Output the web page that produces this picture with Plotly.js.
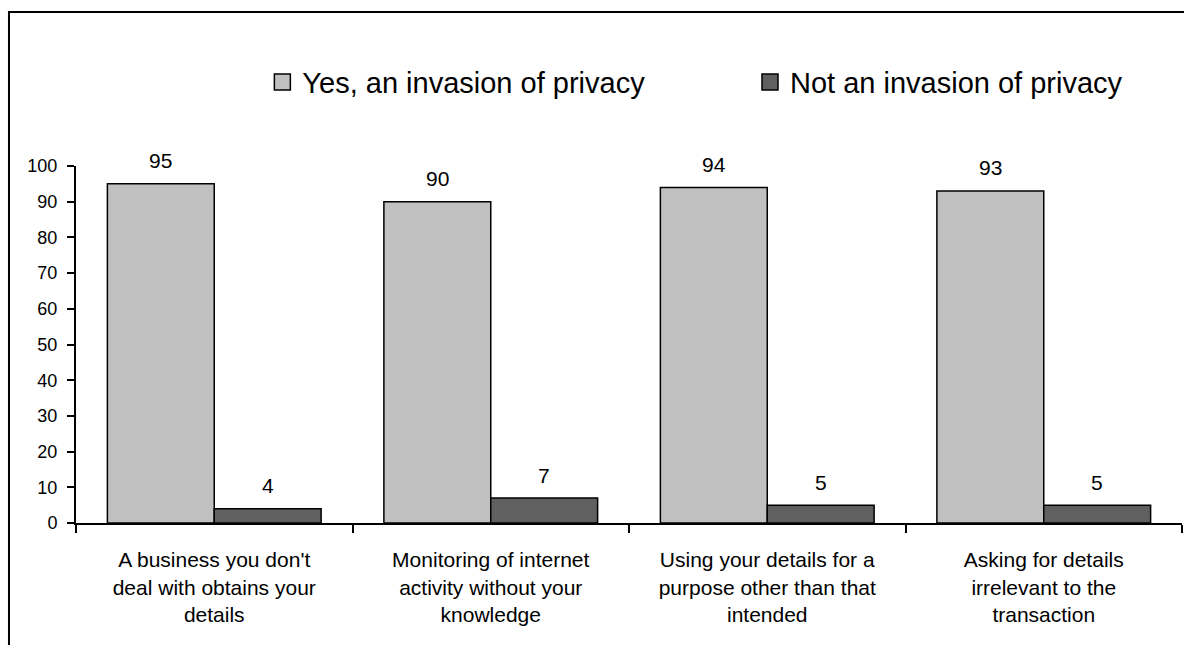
<!DOCTYPE html>
<html>
<head>
<meta charset="utf-8">
<script src="https://cdn.plot.ly/plotly-3.0.1.min.js"></script>
<style>html,body{margin:0;padding:0;background:#fff;}#chart{width:1184px;height:645px;}</style>
</head>
<body>
<div id="chart"></div>
<script>
const categories = [
  "A business you don't<br>deal with obtains your<br>details",
  "Monitoring of internet<br>activity without your<br>knowledge",
  "Using your details for a<br>purpose other than that<br>intended",
  "Asking for details<br>irrelevant to the<br>transaction"
];
const seriesNames = ["Yes, an invasion of privacy", "Not an invasion of privacy"];
const yesValues = [95, 90, 94, 93];
const notValues = [4, 7, 5, 5];
const yTickVals = [0, 10, 20, 30, 40, 50, 60, 70, 80, 90, 100];

const FONT = "Arial, 'Liberation Sans', sans-serif";
const colors = ["#C0C0C0", "#606060"];

const MARGIN = {l: 76, r: 2, t: 166, b: 122};
const WIDTH = 1184, HEIGHT = 645;
const BARGAP = 0.227;

function barTrace(name, vals, color) {
  return {
    type: "bar", name: name, x: categories, y: vals,
    marker: {color: color, line: {color: "#000", width: 1.5}},
    showlegend: false, hoverinfo: "x+y"
  };
}
function legendTrace(name, color, legendId) {
  return {
    type: "scatter", mode: "markers", name: name, x: [null], y: [null],
    marker: {symbol: "square", size: 16, color: color, line: {color: "#000", width: 1.5}},
    showlegend: true, legend: legendId, hoverinfo: "skip"
  };
}

// value labels above each bar, offset to the centre of its group slot
const catPx = (WIDTH - MARGIN.l - MARGIN.r) / categories.length;
const halfSlot = catPx * (1 - BARGAP) / 4;
function labelAnns(vals, side) {
  return vals.map((v, i) => ({
    xref: "x", yref: "y", x: categories[i], y: v, text: String(v),
    showarrow: false, xanchor: "center", yanchor: "middle",
    xshift: side * halfSlot, yshift: 23,
    font: {family: FONT, size: 21, color: "#000"}
  }));
}

const data = [
  barTrace(seriesNames[0], yesValues, colors[0]),
  barTrace(seriesNames[1], notValues, colors[1]),
  legendTrace(seriesNames[0], colors[0], "legend"),
  legendTrace(seriesNames[1], colors[1], "legend2")
];

const legendFont = {family: FONT, size: 29, color: "#000"};
const layout = {
  width: WIDTH, height: HEIGHT,
  margin: MARGIN,
  paper_bgcolor: "#fff", plot_bgcolor: "#fff",
  font: {family: FONT, color: "#000"},
  barmode: "group", bargap: BARGAP, bargroupgap: 0,
  showlegend: true,
  legend: {
    orientation: "h", x: 0.1685, xanchor: "left", y: 1.235, yanchor: "middle",
    font: legendFont, bgcolor: "rgba(0,0,0,0)"
  },
  legend2: {
    orientation: "h", x: 0.6094, xanchor: "left", y: 1.235, yanchor: "middle",
    font: legendFont, bgcolor: "rgba(0,0,0,0)"
  },
  xaxis: {
    type: "category", tickson: "boundaries", ticks: "outside", ticklen: 8, tickwidth: 2,
    tickcolor: "#000", showline: true, linecolor: "#000", linewidth: 2,
    showgrid: false, zeroline: false, ticklabelstandoff: 17,
    tickfont: {family: FONT, size: 21, color: "#000"}, fixedrange: true
  },
  yaxis: {
    range: [0, 100], tickvals: yTickVals, ticktext: yTickVals.map(String),
    ticks: "outside", ticklen: 7, tickwidth: 2, tickcolor: "#000",
    showline: true, linecolor: "#000", linewidth: 2, showgrid: false, zeroline: false,
    ticklabelstandoff: 6,
    tickfont: {family: FONT, size: 18, color: "#000"}, fixedrange: true
  },
  annotations: labelAnns(yesValues, -1).concat(labelAnns(notValues, 1)),
  shapes: [{
    type: "rect", xref: "paper", yref: "paper",
    x0: -0.0606, x1: 1.05, y0: -0.6, y1: 1.4314,
    line: {color: "#000", width: 2}, fillcolor: "rgba(0,0,0,0)", layer: "below"
  }]
};

Plotly.newPlot("chart", data, layout, {displayModeBar: false, staticPlot: true});
</script>
</body>
</html>
